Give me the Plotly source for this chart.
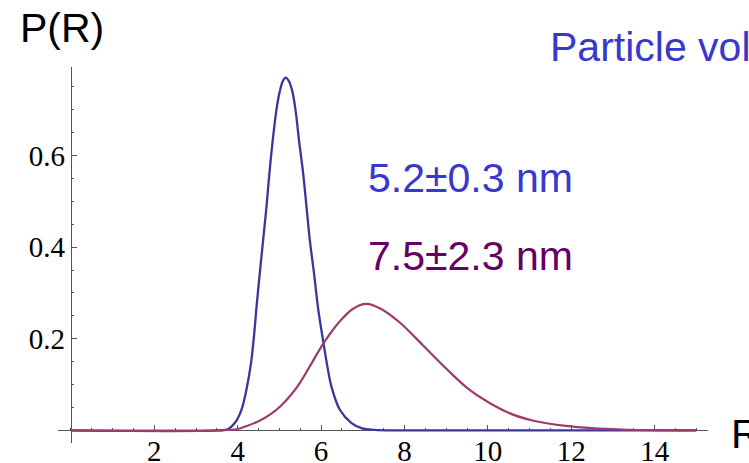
import numpy as np
import plotly.graph_objects as go

# Radius distribution P(R) for the two particle populations
r_narrow = [0.0, 3.5, 3.77, 3.93, 4.09, 4.21, 4.32, 4.40, 4.45, 4.53, 4.61, 4.69, 4.76, 4.84,
            4.93, 5.00, 5.08, 5.15, 5.23, 5.32, 5.40, 5.47, 5.57, 5.65, 5.73, 5.83, 5.93,
            6.05, 6.15, 6.25, 6.45, 6.73, 6.97, 7.3, 7.6, 15.0]
p_narrow = [0.0, 0.0, 0.003, 0.016, 0.045, 0.089, 0.147, 0.215, 0.268, 0.343, 0.415, 0.488, 0.561, 0.633,
            0.700, 0.736, 0.762, 0.770, 0.762, 0.736, 0.690, 0.633, 0.561, 0.488, 0.415, 0.343, 0.265,
            0.195, 0.140, 0.095, 0.045, 0.016, 0.005, 0.001, 0.0, 0.0]

r_broad = [0.0, 3.6, 4.0, 4.2, 4.5, 4.8, 5.05, 5.3, 5.5, 5.75, 6.08, 6.44, 6.76, 7.08, 7.44,
           7.88, 8.44, 9.0, 9.5, 10.0, 10.59, 11.15, 11.87, 12.5, 13.2, 14.0, 15.0]
p_broad = [0.0, 0.0, 0.003, 0.009, 0.020, 0.036, 0.055, 0.080, 0.105, 0.143, 0.193, 0.237, 0.265, 0.276, 0.265,
           0.236, 0.186, 0.135, 0.093, 0.062, 0.035, 0.020, 0.010, 0.005, 0.002, 0.0005, 0.0]

x_ticks = [2, 4, 6, 8, 10, 12, 14]
y_ticks = [0.2, 0.4, 0.6]
x_minor = list(np.arange(0.0, 15.01, 0.5))
y_minor = list(np.arange(0.0, 0.791, 0.05))

label_narrow = "5.2±0.3 nm"
label_broad = "7.5±2.3 nm"
title_text = "Particle volume"

W, H = 749, 463
X_RANGE = [-0.31, 15.28]
Y_RANGE = [-0.0275, 0.793]
M_L, M_R, M_T, M_B = 58, 41, 67, 20

plot_w = W - M_L - M_R
plot_h = H - M_T - M_B


def px_to_paper(px, py):
    return (px - M_L) / plot_w, (H - M_B - py) / plot_h


blue_line = "rgb(56,56,156)"
purple_line = "rgb(158,58,108)"
blue_text = "rgb(56,56,204)"
purple_text = "rgb(102,0,102)"
axis_col = "#555555"

fig = go.Figure()
fig.add_trace(go.Scatter(x=r_narrow, y=p_narrow, mode="lines",
                         line=dict(color=blue_line, width=2.3, shape="spline", smoothing=0.9),
                         showlegend=False, hoverinfo="skip"))
fig.add_trace(go.Scatter(x=r_broad, y=p_broad, mode="lines",
                         line=dict(color=purple_line, width=2.2, shape="spline", smoothing=1.0),
                         showlegend=False, hoverinfo="skip"))

x_pos = (0 - Y_RANGE[0]) / (Y_RANGE[1] - Y_RANGE[0])
y_pos = (0 - X_RANGE[0]) / (X_RANGE[1] - X_RANGE[0])

tick_font = dict(family="Liberation Serif, Times New Roman, serif", size=29, color="black")

fig.update_xaxes(range=X_RANGE, anchor="free", position=x_pos, showline=True, automargin=False,
                 linecolor=axis_col, linewidth=1, showgrid=False, zeroline=False,
                 ticks="inside", ticklen=5, tickwidth=1, tickcolor=axis_col,
                 tickmode="array", tickvals=x_ticks, ticktext=[str(v) for v in x_ticks],
                 tickfont=tick_font, layer="below traces", ticklabelstandoff=-5,
                 minor=dict(tickmode="array", tickvals=x_minor, ticks="inside",
                            ticklen=2.5, tickcolor=axis_col, showgrid=False))
fig.update_yaxes(range=Y_RANGE, anchor="free", position=y_pos, showline=True, automargin=False,
                 linecolor=axis_col, linewidth=1, showgrid=False, zeroline=False,
                 ticks="inside", ticklen=5, tickwidth=1, tickcolor=axis_col,
                 tickmode="array", tickvals=y_ticks, ticktext=[f"{v:.1f}" for v in y_ticks],
                 tickfont=tick_font, layer="below traces",
                 minor=dict(tickmode="array", tickvals=y_minor, ticks="inside",
                            ticklen=2.5, tickcolor=axis_col, showgrid=False))

text_font = "Liberation Sans, Arial, Helvetica, sans-serif"
labels = [
    ("P(R)", 18, 28, "black"),
    (title_text, 548, 47, blue_text),
    (label_narrow, 366, 178, blue_text),
    (label_broad, 366, 256, purple_text),
    ("R", 729, 434, "black"),
]
for txt, px, py, col in labels:
    ax, ay = px_to_paper(px, py)
    fig.add_annotation(x=ax, y=ay, xref="paper", yref="paper", text=txt,
                       showarrow=False, xanchor="left", yanchor="middle",
                       font=dict(family=text_font, size=41, color=col))

fig.update_layout(width=W, height=H, margin=dict(l=M_L, r=M_R, t=M_T, b=M_B, pad=0, autoexpand=False),
                  paper_bgcolor="white", plot_bgcolor="white", showlegend=False)

fig.write_html("out.html")
